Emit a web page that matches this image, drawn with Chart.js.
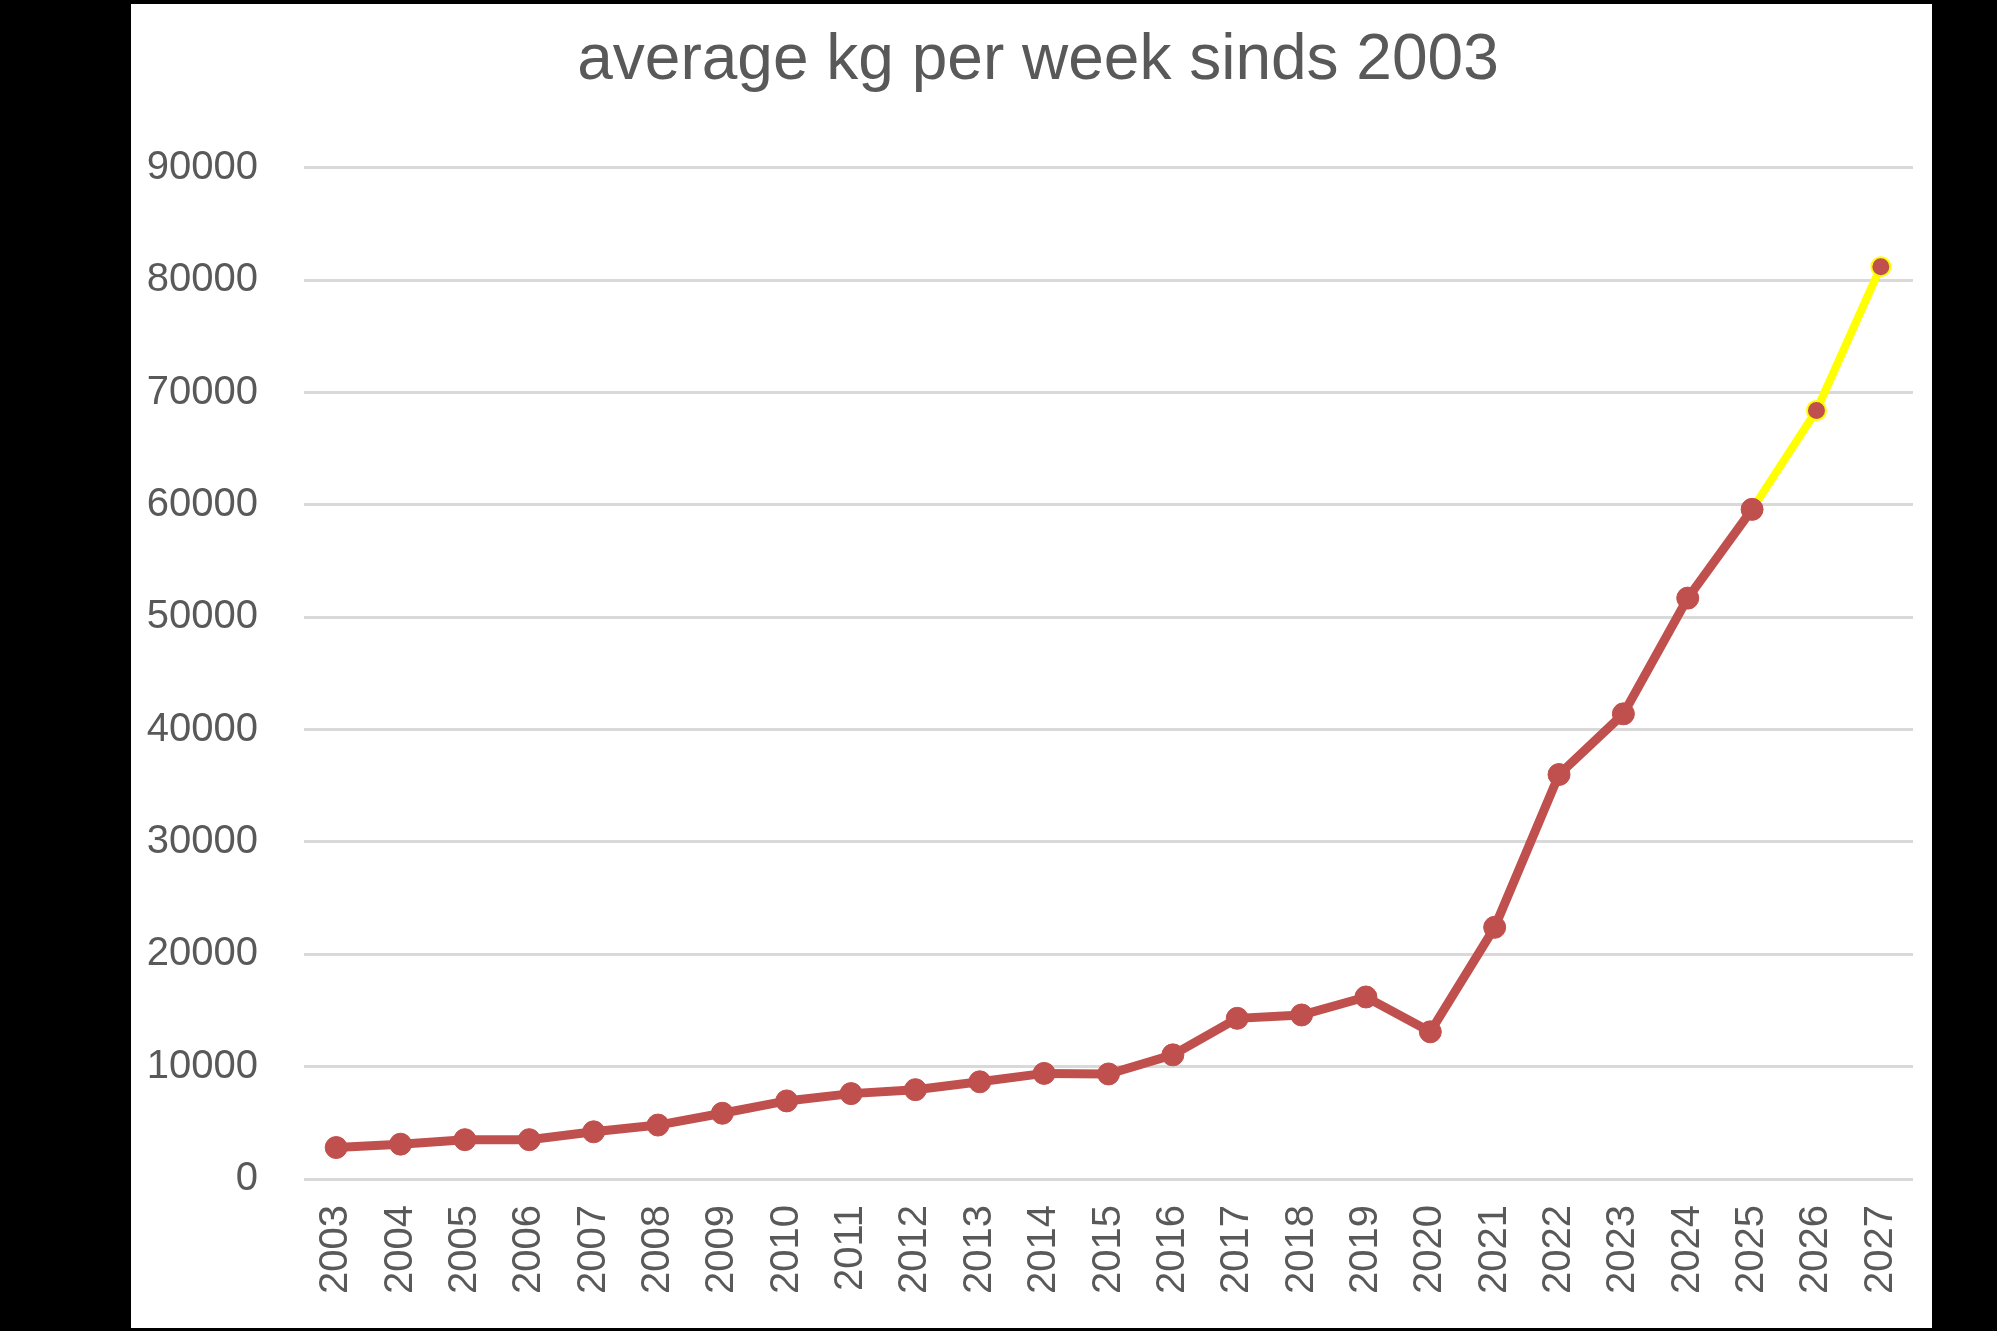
<!DOCTYPE html>
<html>
<head>
<meta charset="utf-8">
<script src="https://cdn.jsdelivr.net/npm/chart.js@4.4.1/dist/chart.umd.min.js"></script>
<style>
  html, body { margin: 0; padding: 0; background: #000; width: 1997px; height: 1331px; overflow: hidden; }
  #wrap { position: absolute; left: 131px; top: 4px; width: 1801px; height: 1324px; background: #fff; }
  canvas { display: block; }
</style>
</head>
<body>
<div id="wrap"><canvas id="c"></canvas></div>
<script>
const titleText = "average kg per week sinds 2003";
const years = ["2003","2004","2005","2006","2007","2008","2009","2010","2011","2012","2013","2014","2015","2016","2017","2018","2019","2020","2021","2022","2023","2024","2025","2026","2027"];
const kgPerWeek = [2800, 3100, 3500, 3500, 4200, 4800, 5850, 6950, 7600, 7950, 8650, 9400, 9350, 11050, 14300, 14600, 16200, 13100, 22400, 36000, 41400, 51700, 59600, 68400, 81200];
const yTicks = [0, 10000, 20000, 30000, 40000, 50000, 60000, 70000, 80000, 90000];
const forecastFrom = 22; // segments starting at this index (2025 -> 2026) are the forecast

const RED = '#C0504D';
const YELLOW = '#FFFF00';
const TEXT = '#595959';
const GRID = '#D9D9D9';

const titleShift = {
  id: 'titleShift',
  afterLayout(chart) {
    const t = chart.titleBlock;
    if (t) { t.left += 11; t.right += 11; }
  }
};

new Chart(document.getElementById('c'), {
  type: 'line',
  plugins: [titleShift],
  data: {
    labels: years,
    datasets: [{
      data: kgPerWeek,
      borderColor: RED,
      borderWidth: 9,
      tension: 0,
      fill: false,
      pointRadius: ctx => ctx.dataIndex > forecastFrom ? 9.5 : 11,
      pointBackgroundColor: RED,
      pointBorderColor: ctx => ctx.dataIndex > forecastFrom ? YELLOW : RED,
      pointBorderWidth: ctx => ctx.dataIndex > forecastFrom ? 2 : 1,
      segment: {
        borderColor: ctx => ctx.p0DataIndex >= forecastFrom ? YELLOW : RED,
        borderWidth: ctx => ctx.p0DataIndex >= forecastFrom ? 8 : 9
      }
    }]
  },
  options: {
    responsive: true,
    maintainAspectRatio: false,
    animation: false,
    devicePixelRatio: 1,
    layout: { padding: { left: 10, right: 19, top: 0, bottom: 0 } },
    plugins: {
      legend: { display: false },
      tooltip: { enabled: false },
      title: {
        display: true,
        text: titleText,
        color: TEXT,
        font: { family: 'Liberation Sans', size: 64, weight: 'normal', lineHeight: 1.2 },
        padding: { top: 19, bottom: 68 }
      }
    },
    scales: {
      x: {
        offset: true,
        grid: { display: false, drawTicks: false },
        border: { display: false },
        ticks: {
          autoSkip: false,
          minRotation: 90,
          maxRotation: 90,
          padding: 26,
          color: TEXT,
          font: { family: 'Liberation Sans', size: 40 }
        },
        afterFit: s => { s.height = 149; s.paddingLeft = 0; s.paddingRight = 0; }
      },
      y: {
        min: yTicks[0],
        max: yTicks[yTicks.length - 1],
        afterBuildTicks: s => { s.ticks = yTicks.map(v => ({ value: v })); },
        grid: { color: GRID, lineWidth: 3, drawTicks: false },
        border: { display: false },
        ticks: {
          padding: 46,
          color: TEXT,
          font: { family: 'Liberation Sans', size: 40 },
          callback: v => String(v)
        },
        afterFit: s => { s.width = 163; }
      }
    }
  }
});
</script>
</body>
</html>
